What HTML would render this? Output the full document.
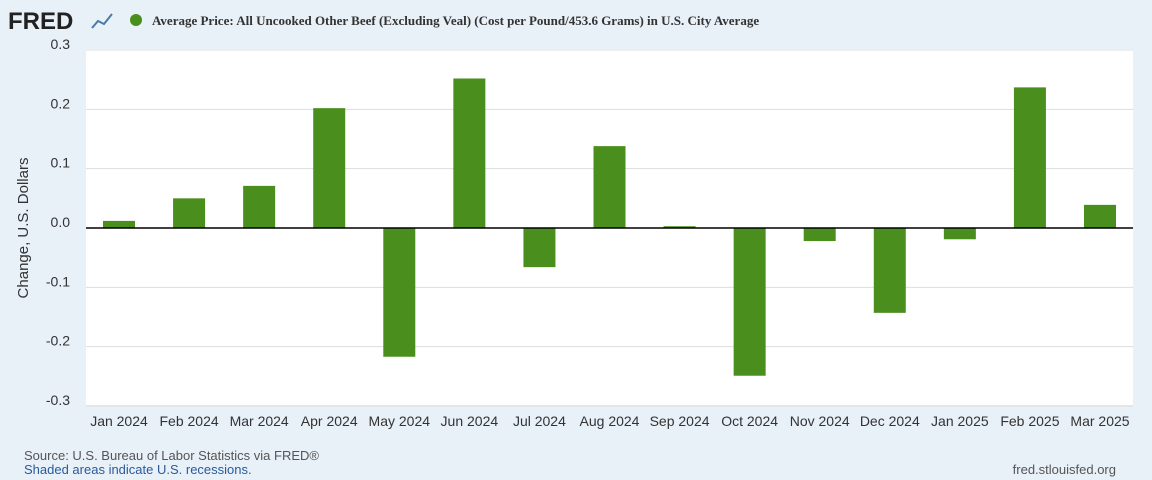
<!DOCTYPE html>
<html><head><meta charset="utf-8"><style>
html,body{margin:0;padding:0;background:#e8f0f8;}
svg{display:block;font-family:"Liberation Sans",Arial,sans-serif;}
</style></head><body>
<svg id="c" width="1152" height="480">
<rect width="1152" height="480" fill="#e8f0f8"/>
<text x="8" y="29" font-size="24" font-weight="bold" fill="#222">FRED</text>
<polyline points="92,28 98,21 104,24 112,14" fill="none" stroke="#4a7aa8" stroke-width="2"/>
<circle cx="136" cy="20" r="6" fill="#4a8f1d"/>
<text x="152" y="25" font-family="Liberation Serif,serif" font-size="13" font-weight="bold" fill="#333">Average Price: All Uncooked Other Beef (Excluding Veal) (Cost per Pound/453.6 Grams) in U.S. City Average</text>
<rect x="86" y="49" width="1047" height="356" fill="#fff"/>
<g id="grid"></g><g id="bars"></g><g id="xl"></g>
<text transform="translate(28,228) rotate(-90)" text-anchor="middle" font-size="15" fill="#333">Change, U.S. Dollars</text>
<text x="24" y="460" font-size="13" fill="#555">Source: U.S. Bureau of Labor Statistics via FRED®</text>
<text x="24" y="474" font-size="13" fill="#2a5a9a">Shaded areas indicate U.S. recessions.</text>
<text x="1116" y="474" text-anchor="end" font-size="13" fill="#555">fred.stlouisfed.org</text>
</svg>
<script>
const categories=["Jan 2024","Feb 2024","Mar 2024","Apr 2024","May 2024","Jun 2024","Jul 2024","Aug 2024","Sep 2024","Oct 2024","Nov 2024","Dec 2024","Jan 2025","Feb 2025","Mar 2025"];
const values=[0.012,0.05,0.071,0.202,-0.217,0.252,-0.066,0.138,0.003,-0.249,-0.022,-0.143,-0.019,0.237,0.039];
const yTicks=[0.3,0.2,0.1,0.0,-0.1,-0.2,-0.3];
const yTickLabels=["0.3","0.2","0.1","0.0","-0.1","-0.2","-0.3"];
const NS="http://www.w3.org/2000/svg";
const y=v=>228-v*593.3;
const x=i=>119+i*(1100-119)/(categories.length-1);
function mk(t,a,p){const e=document.createElementNS(NS,t);for(const k in a)e.setAttribute(k,a[k]);p.appendChild(e);return e;}
const g=document.getElementById('grid');
yTicks.forEach((v,i)=>{
 if(v!==0){const l=mk('line',{x1:86,x2:1133,y1:y(v),y2:y(v),stroke:'#ddd','stroke-width':1},g);
 
 }
 const t=mk('text',{x:70,y:y(v)-1,'text-anchor':'end','font-size':14,fill:'#333'},g);
 t.textContent=yTickLabels[i];
 
 
});
const b=document.getElementById('bars');
values.forEach((v,i)=>{
 const r=mk('rect',{x:x(i)-16,width:32,y:Math.min(y(v),y(0)),height:Math.abs(y(v)-y(0)),fill:'#4a8f1d'},b);
 
 
});
const z=mk('line',{x1:86,x2:1133,y1:y(0),y2:y(0),stroke:'#000','stroke-width':1.5},b);


const xl=document.getElementById('xl');
categories.forEach((c,i)=>{
 const t=mk('text',{x:x(i),y:426,'text-anchor':'middle','font-size':14,fill:'#333'},xl);
 t.textContent=c;
 
 
});
</script>
</body></html>
